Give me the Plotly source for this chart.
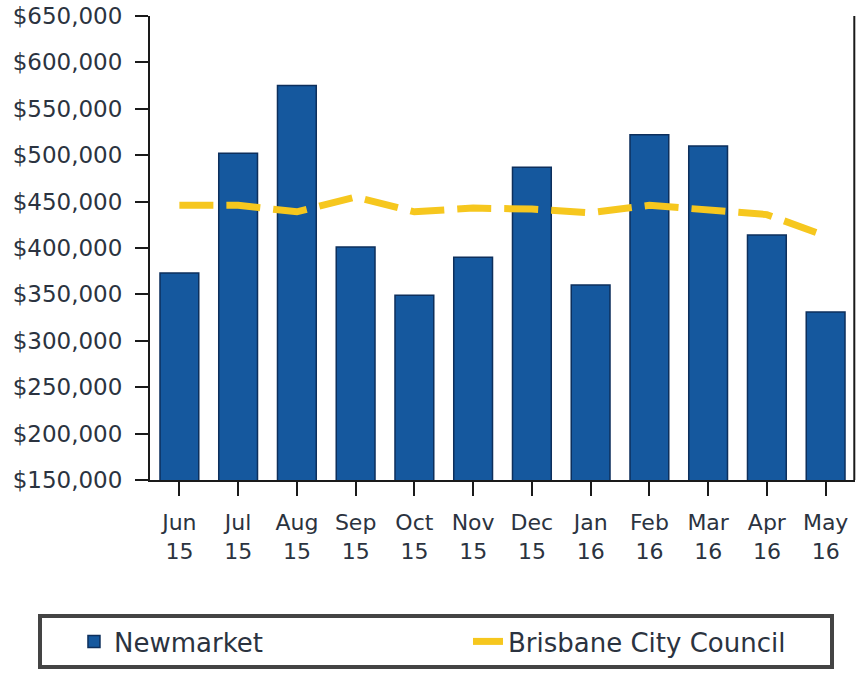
import plotly.graph_objs as go

months = ["Jun<br>15", "Jul<br>15", "Aug<br>15", "Sep<br>15", "Oct<br>15", "Nov<br>15",
          "Dec<br>15", "Jan<br>16", "Feb<br>16", "Mar<br>16", "Apr<br>16", "May<br>16"]
newmarket = [373000, 502000, 575000, 401000, 349000, 390000,
             487000, 360000, 522000, 510000, 414000, 331000]
brisbane = [446000, 446000, 439000, 455000, 439000, 443000,
            442000, 438000, 446000, 441000, 436000, 413000]
y_ticks = [150000, 200000, 250000, 300000, 350000, 400000,
           450000, 500000, 550000, 600000, 650000]

fig = go.Figure()

# bars for the suburb
fig.add_bar(x=months, y=newmarket, name="Newmarket",
            marker=dict(color="#15589e", line=dict(color="#0d2f5c", width=1.5)))

# council median as a dashed line
fig.add_scatter(x=months, y=brisbane, name="Brisbane City Council", mode="lines",
                line=dict(color="#f6c71e", width=7, dash="34px,13px"))

# frame line on the right of the plot
fig.add_shape(type="line", xref="paper", yref="paper", x0=0.999, x1=0.999, y0=0, y1=1.0,
              line=dict(color="#1a1a1a", width=2))

font = "DejaVu Sans, Verdana, sans-serif"

fig.update_layout(
    width=857, height=681,
    margin=dict(l=150, r=2, t=16, b=201, autoexpand=False),
    plot_bgcolor="white", paper_bgcolor="white",
    bargap=0.34,
    font=dict(family=font, color="#2b3340"),
    showlegend=True,
    legend=dict(orientation="h", x=-0.1589, xanchor="left", y=-0.2888, yanchor="top",
                font=dict(size=26, family=font, color="#2b3340"),
                bordercolor="#444444", borderwidth=4, bgcolor="white",
                indentation=32,
                entrywidth=317, entrywidthmode="pixels", traceorder="normal"),
)

fig.update_yaxes(range=[150000, 650000], tickvals=y_ticks, tickformat="$,",
                 showgrid=False, zeroline=False, automargin=False,
                 showline=True, linecolor="#1a1a1a", linewidth=2,
                 ticks="outside", ticklen=13, tickwidth=2, tickcolor="#1a1a1a",
                 tickfont=dict(size=23), ticklabelstandoff=8, ticklabeloverflow="allow")
fig.update_xaxes(showgrid=False, showline=True, linecolor="#1a1a1a", linewidth=2,
                 automargin=False,
                 ticks="outside", ticklen=14, tickwidth=2, tickcolor="#1a1a1a",
                 tickfont=dict(size=22), tickangle=0, ticklabelstandoff=8)

# drop the default page margin so the figure fills the window, and hide the modebar
fig.write_html("out.html", config={"displayModeBar": False},
               post_script="document.body.style.margin = '0';")
